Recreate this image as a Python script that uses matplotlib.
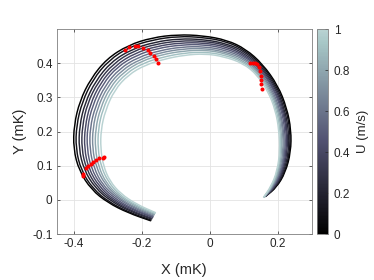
import matplotlib
matplotlib.use('Agg')
import matplotlib.pyplot as plt
import numpy as np
from matplotlib.colors import LinearSegmentedColormap, Normalize
from matplotlib.cm import ScalarMappable
from matplotlib.path import Path
from matplotlib.patches import PathPatch

plt.rcParams['font.family'] = ['Liberation Sans', 'DejaVu Sans']

# wind speed of each trajectory
u_vals = [0.0, 0.1, 0.2, 0.3, 0.4, 0.5, 0.6, 0.7, 0.8, 0.9, 1.0]

# trajectories, one row per U value (mK)
curves_x = [
    [-0.174, -0.240, -0.300, -0.348, -0.384, -0.401, -0.399, -0.382, -0.350, -0.303, -0.240, -0.170,
     -0.095, -0.020, 0.050, 0.105, 0.155, 0.200, 0.226, 0.239, 0.238, 0.222, 0.196, 0.166],
    [-0.173, -0.238, -0.297, -0.343, -0.378, -0.394, -0.392, -0.375, -0.344, -0.297, -0.236, -0.167,
     -0.093, -0.020, 0.049, 0.104, 0.154, 0.197, 0.223, 0.236, 0.235, 0.220, 0.195, 0.165],
    [-0.171, -0.235, -0.292, -0.337, -0.370, -0.385, -0.383, -0.367, -0.336, -0.290, -0.230, -0.163,
     -0.091, -0.019, 0.048, 0.104, 0.152, 0.194, 0.219, 0.232, 0.232, 0.217, 0.193, 0.164],
    [-0.170, -0.233, -0.289, -0.332, -0.363, -0.377, -0.375, -0.360, -0.329, -0.284, -0.225, -0.160,
     -0.089, -0.019, 0.047, 0.103, 0.151, 0.191, 0.216, 0.228, 0.228, 0.215, 0.191, 0.164],
    [-0.168, -0.230, -0.285, -0.326, -0.356, -0.369, -0.367, -0.352, -0.322, -0.278, -0.220, -0.156,
     -0.087, -0.018, 0.046, 0.102, 0.149, 0.188, 0.213, 0.225, 0.225, 0.212, 0.190, 0.163],
    [-0.167, -0.228, -0.281, -0.321, -0.349, -0.361, -0.360, -0.345, -0.315, -0.272, -0.215, -0.153,
     -0.085, -0.018, 0.045, 0.102, 0.148, 0.186, 0.210, 0.221, 0.222, 0.210, 0.188, 0.162],
    [-0.166, -0.225, -0.277, -0.316, -0.341, -0.353, -0.352, -0.337, -0.308, -0.265, -0.210, -0.149,
     -0.083, -0.017, 0.044, 0.101, 0.146, 0.183, 0.206, 0.217, 0.219, 0.208, 0.186, 0.161],
    [-0.164, -0.223, -0.273, -0.310, -0.334, -0.345, -0.344, -0.330, -0.301, -0.259, -0.205, -0.146,
     -0.081, -0.017, 0.043, 0.100, 0.145, 0.180, 0.203, 0.214, 0.216, 0.205, 0.185, 0.160],
    [-0.163, -0.220, -0.270, -0.305, -0.327, -0.337, -0.336, -0.322, -0.294, -0.253, -0.200, -0.142,
     -0.079, -0.016, 0.042, 0.099, 0.143, 0.177, 0.200, 0.210, 0.212, 0.203, 0.183, 0.160],
    [-0.161, -0.218, -0.266, -0.299, -0.320, -0.329, -0.328, -0.315, -0.287, -0.246, -0.195, -0.139,
     -0.077, -0.016, 0.041, 0.099, 0.142, 0.174, 0.196, 0.207, 0.209, 0.200, 0.182, 0.159],
    [-0.160, -0.215, -0.262, -0.294, -0.313, -0.321, -0.320, -0.307, -0.280, -0.240, -0.190, -0.135,
     -0.075, -0.015, 0.040, 0.098, 0.140, 0.171, 0.193, 0.203, 0.206, 0.198, 0.180, 0.158],
]
curves_y = [
    [-0.061, -0.038, -0.008, 0.030, 0.085, 0.150, 0.220, 0.290, 0.355, 0.413, 0.453, 0.475,
     0.484, 0.481, 0.468, 0.442, 0.398, 0.335, 0.270, 0.205, 0.140, 0.080, 0.037, 0.012],
    [-0.059, -0.036, -0.006, 0.032, 0.086, 0.150, 0.219, 0.287, 0.352, 0.409, 0.448, 0.469,
     0.479, 0.476, 0.464, 0.438, 0.395, 0.333, 0.269, 0.205, 0.140, 0.080, 0.037, 0.012],
    [-0.056, -0.033, -0.003, 0.035, 0.088, 0.150, 0.217, 0.284, 0.348, 0.404, 0.441, 0.462,
     0.472, 0.470, 0.458, 0.434, 0.391, 0.332, 0.268, 0.205, 0.141, 0.081, 0.038, 0.011],
    [-0.054, -0.031, 0.000, 0.038, 0.090, 0.150, 0.216, 0.282, 0.345, 0.399, 0.436, 0.456,
     0.466, 0.465, 0.454, 0.429, 0.388, 0.330, 0.268, 0.205, 0.142, 0.082, 0.038, 0.011],
    [-0.051, -0.028, 0.002, 0.040, 0.091, 0.150, 0.214, 0.279, 0.342, 0.394, 0.430, 0.450,
     0.460, 0.460, 0.449, 0.425, 0.385, 0.328, 0.267, 0.205, 0.142, 0.082, 0.038, 0.010],
    [-0.049, -0.026, 0.005, 0.043, 0.093, 0.150, 0.213, 0.276, 0.339, 0.390, 0.424, 0.444,
     0.454, 0.455, 0.444, 0.421, 0.382, 0.327, 0.266, 0.205, 0.143, 0.083, 0.039, 0.010],
    [-0.047, -0.023, 0.008, 0.045, 0.094, 0.150, 0.211, 0.273, 0.335, 0.385, 0.418, 0.437,
     0.448, 0.449, 0.439, 0.417, 0.378, 0.325, 0.265, 0.205, 0.143, 0.083, 0.039, 0.010],
    [-0.044, -0.021, 0.010, 0.048, 0.096, 0.150, 0.210, 0.270, 0.332, 0.380, 0.412, 0.431,
     0.442, 0.444, 0.434, 0.413, 0.375, 0.323, 0.264, 0.205, 0.144, 0.084, 0.039, 0.009],
    [-0.042, -0.018, 0.013, 0.050, 0.097, 0.150, 0.208, 0.268, 0.329, 0.375, 0.407, 0.425,
     0.436, 0.439, 0.430, 0.408, 0.372, 0.321, 0.264, 0.205, 0.144, 0.084, 0.039, 0.009],
    [-0.039, -0.016, 0.015, 0.053, 0.099, 0.150, 0.207, 0.265, 0.325, 0.371, 0.401, 0.418,
     0.430, 0.433, 0.425, 0.404, 0.368, 0.320, 0.263, 0.205, 0.145, 0.085, 0.040, 0.008],
    [-0.037, -0.013, 0.018, 0.055, 0.100, 0.150, 0.205, 0.262, 0.322, 0.366, 0.395, 0.412,
     0.424, 0.428, 0.420, 0.400, 0.365, 0.318, 0.262, 0.205, 0.145, 0.085, 0.040, 0.008],
]

# red markers (three groups)
dots_x = [-0.250, -0.237, -0.220, -0.210, -0.196, -0.181, -0.176, -0.164, -0.159, -0.152,
          -0.374, -0.372, -0.364, -0.357, -0.350, -0.343, -0.335, -0.325, -0.315, -0.311,
          0.117, 0.127, 0.134, 0.140, 0.144, 0.147, 0.149, 0.150, 0.151, 0.152]
dots_y = [0.439, 0.448, 0.451, 0.450, 0.445, 0.439, 0.431, 0.421, 0.413, 0.401,
          0.070, 0.077, 0.093, 0.099, 0.106, 0.112, 0.118, 0.122, 0.124, 0.126,
          0.400, 0.401, 0.400, 0.397, 0.390, 0.377, 0.363, 0.351, 0.338, 0.325]


def smooth_path(xs, ys):
    # quadratic bezier through the midpoints, using the read points as controls
    p = np.column_stack([xs, ys])
    mids = (p[:-1] + p[1:]) / 2
    verts = [p[0], mids[0]]
    codes = [Path.MOVETO, Path.LINETO]
    for i in range(1, len(p) - 1):
        verts += [p[i], mids[i]]
        codes += [Path.CURVE3, Path.CURVE3]
    verts.append(p[-1])
    codes.append(Path.LINETO)
    return Path(verts, codes)


bone = plt.get_cmap('bone')
cmap = LinearSegmentedColormap.from_list('bone_cut', bone(np.linspace(0, 0.8, 256)))
norm = Normalize(0, 1)

fig = plt.figure(figsize=(3.74, 2.8), dpi=100)
ax = fig.add_axes([0.1516, 0.164, 0.6824, 0.732])
cax = fig.add_axes([0.847, 0.164, 0.031, 0.732])

for u, cx, cy in zip(u_vals, curves_x, curves_y):
    ax.add_patch(PathPatch(smooth_path(cx, cy), fill=False, edgecolor=cmap(norm(u)),
                           lw=1.05, capstyle='round', joinstyle='round'))
ax.plot(dots_x, dots_y, 'o', color='red', ms=2.9, mec='none')

ax.set_xlim(-0.45, 0.30)
ax.set_ylim(-0.1, 0.5)
ax.set_xticks([-0.4, -0.2, 0, 0.2])
ax.set_xticklabels(['-0.4', '-0.2', '0', '0.2'])
ax.set_yticks([-0.1, 0, 0.1, 0.2, 0.3, 0.4])
ax.set_yticklabels(['-0.1', '0', '0.1', '0.2', '0.3', '0.4'])
ax.grid(True, color='#e3e3e3', lw=0.6)
ax.set_axisbelow(True)
ax.tick_params(direction='in', top=True, right=True, length=2.5, width=0.5,
               colors='#262626', labelsize=8.5, pad=3)
for s in ax.spines.values():
    s.set_color('#7f7f7f')
    s.set_linewidth(0.6)
ax.set_xlabel('X (mK)', fontsize=10.5, color='#262626', labelpad=9)
ax.set_ylabel('Y (mK)', fontsize=10.5, color='#262626', labelpad=4)

cb = fig.colorbar(ScalarMappable(norm=norm, cmap=cmap), cax=cax)
cb.set_ticks([0, 0.2, 0.4, 0.6, 0.8, 1])
cb.set_ticklabels(['0', '0.2', '0.4', '0.6', '0.8', '1'])
cb.ax.tick_params(direction='in', length=2, width=0.5, colors='#262626', labelsize=8.5, pad=4)
cb.outline.set_edgecolor('#7f7f7f')
cb.outline.set_linewidth(0.6)
cb.set_label('U (m/s)', fontsize=9.5, color='#262626', labelpad=5)

fig.savefig('out.png', dpi=100)
